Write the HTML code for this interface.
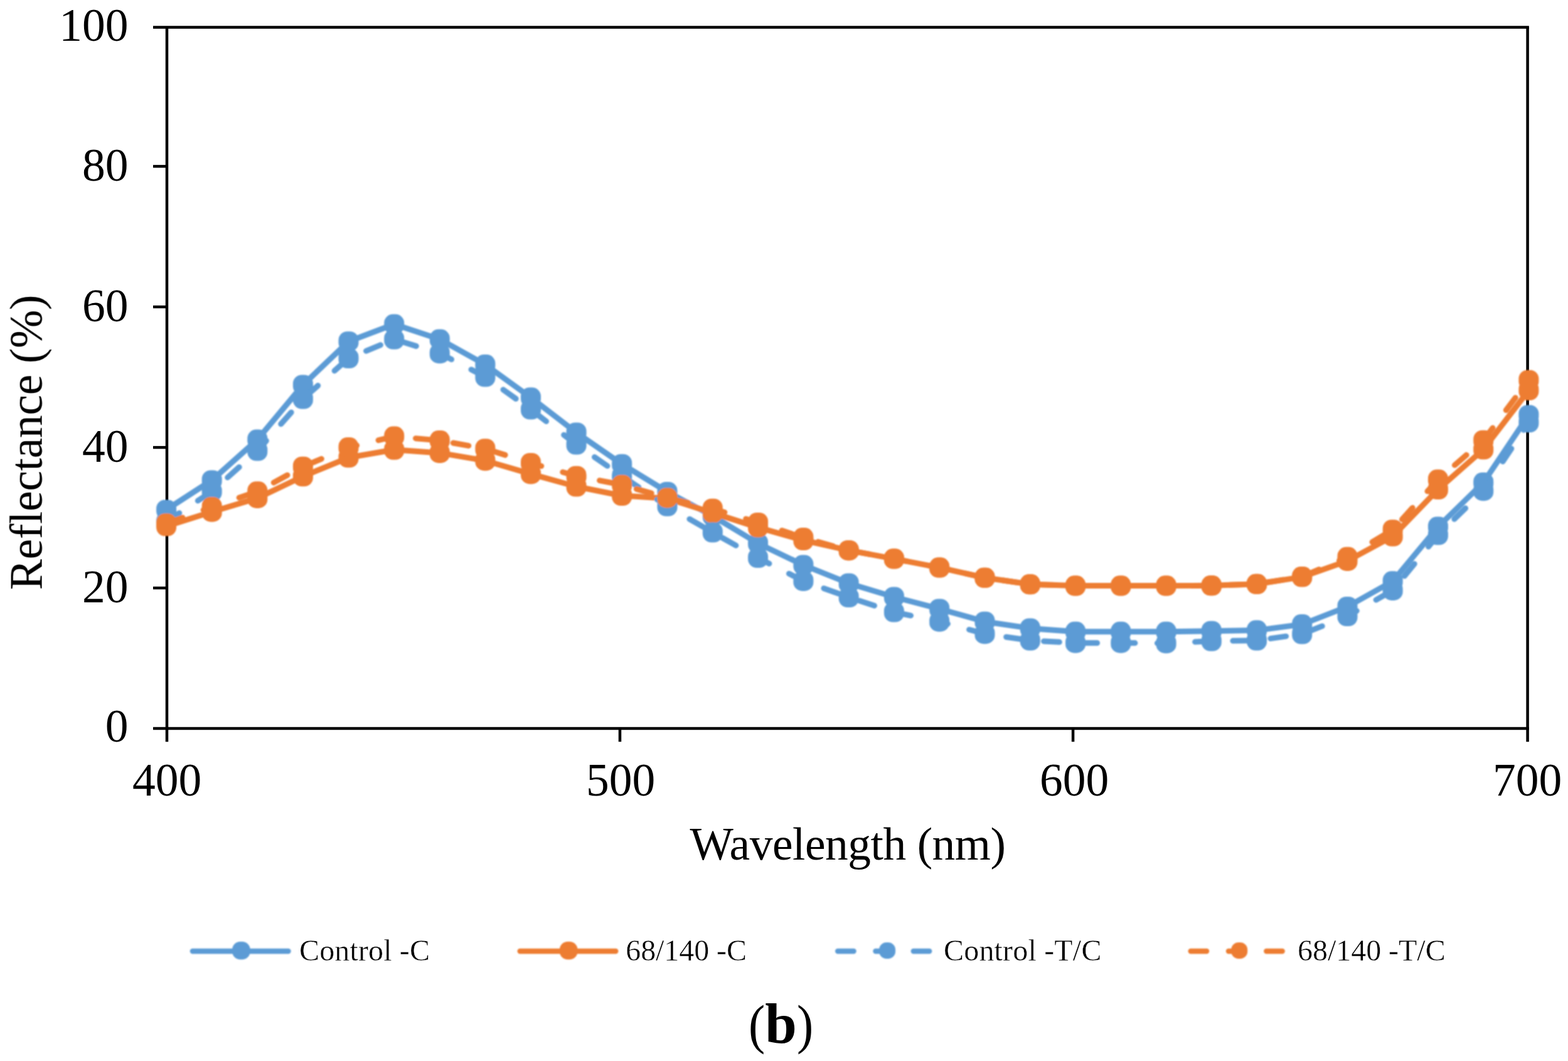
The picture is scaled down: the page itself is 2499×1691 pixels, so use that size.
<!DOCTYPE html>
<html lang="en">
<head>
<meta charset="utf-8">
<title>Reflectance vs Wavelength (b)</title>
<style>
html,body{margin:0;padding:0;background:#fff;}
body{width:2499px;height:1691px;}
svg{display:block;position:absolute;left:0;top:0;}
body{position:relative;}
.caption{position:absolute;left:0;top:0;width:2499px;height:0;font-family:"Liberation Serif","Times New Roman",Times,serif;color:#000;white-space:nowrap;}
.caption span,.caption b{position:absolute;line-height:1;white-space:pre;}
.caption .par{top:1589.0px;font-size:87.6px;transform-origin:0 0;transform:scaleX(0.9);}
.caption b{top:1586.3px;font-size:91px;font-weight:bold;}
text{font-family:"Liberation Serif","Times New Roman",Times,serif;fill:#000;}
.legend text{stroke:#fff;stroke-width:0.4px;}
.ytitle{font-feature-settings:"dlig" 1;font-variant-ligatures:discretionary-ligatures;}
</style>
</head>
<body>
<svg width="2499" height="1691" viewBox="0 0 2499 1691">
<defs>
<filter id="soft" x="-5%" y="-5%" width="110%" height="110%"><feGaussianBlur stdDeviation="0.9"/></filter>
<filter id="softtext" x="-10%" y="-10%" width="120%" height="120%"><feGaussianBlur stdDeviation="0.7"/></filter>
</defs>
<rect x="0" y="0" width="2499" height="1691" fill="#fff"/>
<g class="chart">
<g class="axes" stroke="#000" stroke-width="4.5" fill="none" stroke-linecap="butt">
<line x1="244.0" y1="43.6" x2="2436.85" y2="43.6"/>
<line x1="244.0" y1="1161.1" x2="2436.85" y2="1161.1"/>
<line x1="266.0" y1="43.6" x2="266.0" y2="1182.2"/>
<line x1="2434.6" y1="43.6" x2="2434.6" y2="1182.2"/>
<line x1="244.0" y1="265.1" x2="266.0" y2="265.1"/>
<line x1="244.0" y1="489.1" x2="266.0" y2="489.1"/>
<line x1="244.0" y1="713.1" x2="266.0" y2="713.1"/>
<line x1="244.0" y1="937.1" x2="266.0" y2="937.1"/>
<line x1="988.0" y1="1161.1" x2="988.0" y2="1182.2"/>
<line x1="1710.1" y1="1161.1" x2="1710.1" y2="1182.2"/>
</g>
<g class="labels" filter="url(#softtext)">
<g class="ylabels" font-size="73.5" text-anchor="end">
<text x="204.6" y="64.5">100</text>
<text x="204.6" y="288.2">80</text>
<text x="204.6" y="512.2">60</text>
<text x="204.6" y="736.2">40</text>
<text x="204.6" y="960.2">20</text>
<text x="204.6" y="1181.9">0</text>
</g>
<g class="xlabels" font-size="73.5" text-anchor="middle">
<text x="266.1" y="1268.0">400</text>
<text x="989.2" y="1268.0">500</text>
<text x="1712.0" y="1268.0">600</text>
<text x="2434.2" y="1268.0">700</text>
</g>
<text class="xtitle" x="1099.6" y="1369.5" font-size="73.5" textLength="503.4" lengthAdjust="spacing">Wavelength (nm)</text>
<text class="ytitle" transform="translate(66.6 940.3) rotate(-90)" font-size="73.5" textLength="470.6" lengthAdjust="spacing">Reflectance (%)</text>
</g>
<g class="plot" filter="url(#soft)">
<g class="series">
<polyline points="265.1,812.4 337.7,765.4 410.3,700.6 482.9,613.5 555.5,544.2 628.2,516.8 700.8,540.8 773.4,581.1 846.0,633.6 918.6,689.5 991.2,739.7 1063.5,783.9 1135.8,822.4 1208.1,866.0 1280.4,900.6 1352.7,929.7 1424.9,951.5 1497.2,970.4 1569.5,990.7 1641.8,1001.4 1714.1,1006.8 1786.3,1006.8 1858.6,1006.8 1930.8,1005.7 2003.0,1004.6 2075.2,995.1 2147.5,966.9 2219.7,926.3 2291.9,839.6 2364.2,769.1 2436.4,661.5" fill="none" stroke="#5B9BD5" stroke-width="9.0" stroke-linecap="round" stroke-linejoin="round"/>
<g fill="#5B9BD5"><rect x="249.1" y="796.4" width="32.0" height="32.0" rx="14.0" ry="14.0"/><rect x="321.7" y="749.4" width="32.0" height="32.0" rx="14.0" ry="14.0"/><rect x="394.3" y="684.6" width="32.0" height="32.0" rx="14.0" ry="14.0"/><rect x="466.9" y="597.5" width="32.0" height="32.0" rx="14.0" ry="14.0"/><rect x="539.5" y="528.2" width="32.0" height="32.0" rx="14.0" ry="14.0"/><rect x="612.2" y="500.8" width="32.0" height="32.0" rx="14.0" ry="14.0"/><rect x="684.8" y="524.8" width="32.0" height="32.0" rx="14.0" ry="14.0"/><rect x="757.4" y="565.1" width="32.0" height="32.0" rx="14.0" ry="14.0"/><rect x="830.0" y="617.6" width="32.0" height="32.0" rx="14.0" ry="14.0"/><rect x="902.6" y="673.5" width="32.0" height="32.0" rx="14.0" ry="14.0"/><rect x="975.2" y="723.7" width="32.0" height="32.0" rx="14.0" ry="14.0"/><rect x="1047.5" y="767.9" width="32.0" height="32.0" rx="14.0" ry="14.0"/><rect x="1119.8" y="806.4" width="32.0" height="32.0" rx="14.0" ry="14.0"/><rect x="1192.1" y="850.0" width="32.0" height="32.0" rx="14.0" ry="14.0"/><rect x="1264.4" y="884.6" width="32.0" height="32.0" rx="14.0" ry="14.0"/><rect x="1336.7" y="913.7" width="32.0" height="32.0" rx="14.0" ry="14.0"/><rect x="1408.9" y="935.5" width="32.0" height="32.0" rx="14.0" ry="14.0"/><rect x="1481.2" y="954.4" width="32.0" height="32.0" rx="14.0" ry="14.0"/><rect x="1553.5" y="974.7" width="32.0" height="32.0" rx="14.0" ry="14.0"/><rect x="1625.8" y="985.4" width="32.0" height="32.0" rx="14.0" ry="14.0"/><rect x="1698.1" y="990.8" width="32.0" height="32.0" rx="14.0" ry="14.0"/><rect x="1770.3" y="990.8" width="32.0" height="32.0" rx="14.0" ry="14.0"/><rect x="1842.6" y="990.8" width="32.0" height="32.0" rx="14.0" ry="14.0"/><rect x="1914.8" y="989.7" width="32.0" height="32.0" rx="14.0" ry="14.0"/><rect x="1987.0" y="988.6" width="32.0" height="32.0" rx="14.0" ry="14.0"/><rect x="2059.2" y="979.1" width="32.0" height="32.0" rx="14.0" ry="14.0"/><rect x="2131.5" y="950.9" width="32.0" height="32.0" rx="14.0" ry="14.0"/><rect x="2203.7" y="910.3" width="32.0" height="32.0" rx="14.0" ry="14.0"/><rect x="2275.9" y="823.6" width="32.0" height="32.0" rx="14.0" ry="14.0"/><rect x="2348.2" y="753.1" width="32.0" height="32.0" rx="14.0" ry="14.0"/><rect x="2420.4" y="645.5" width="32.0" height="32.0" rx="14.0" ry="14.0"/></g>
</g>
<g class="series">
<polyline points="265.1,838.6 337.7,815.7 410.3,793.9 482.9,759.3 555.5,729.3 628.2,716.8 700.8,721.9 773.4,734.2 846.0,755.4 918.6,775.5 991.2,790.0 1063.5,794.5 1135.8,817.4 1208.1,840.6 1280.4,861.0 1352.7,877.2 1424.9,890.6 1497.2,904.6 1569.5,920.8 1641.8,931.3 1714.1,933.6 1786.3,933.6 1858.6,933.6 1930.8,933.3 2003.0,930.8 2075.2,919.6 2147.5,893.9 2219.7,854.8 2291.9,780.0 2364.2,716.3 2436.4,622.0" fill="none" stroke="#ED7D31" stroke-width="9.0" stroke-linecap="round" stroke-linejoin="round"/>
<g fill="#ED7D31"><rect x="249.1" y="822.6" width="32.0" height="32.0" rx="14.0" ry="14.0"/><rect x="321.7" y="799.7" width="32.0" height="32.0" rx="14.0" ry="14.0"/><rect x="394.3" y="777.9" width="32.0" height="32.0" rx="14.0" ry="14.0"/><rect x="466.9" y="743.3" width="32.0" height="32.0" rx="14.0" ry="14.0"/><rect x="539.5" y="713.3" width="32.0" height="32.0" rx="14.0" ry="14.0"/><rect x="612.2" y="700.8" width="32.0" height="32.0" rx="14.0" ry="14.0"/><rect x="684.8" y="705.9" width="32.0" height="32.0" rx="14.0" ry="14.0"/><rect x="757.4" y="718.2" width="32.0" height="32.0" rx="14.0" ry="14.0"/><rect x="830.0" y="739.4" width="32.0" height="32.0" rx="14.0" ry="14.0"/><rect x="902.6" y="759.5" width="32.0" height="32.0" rx="14.0" ry="14.0"/><rect x="975.2" y="774.0" width="32.0" height="32.0" rx="14.0" ry="14.0"/><rect x="1047.5" y="778.5" width="32.0" height="32.0" rx="14.0" ry="14.0"/><rect x="1119.8" y="801.4" width="32.0" height="32.0" rx="14.0" ry="14.0"/><rect x="1192.1" y="824.6" width="32.0" height="32.0" rx="14.0" ry="14.0"/><rect x="1264.4" y="845.0" width="32.0" height="32.0" rx="14.0" ry="14.0"/><rect x="1336.7" y="861.2" width="32.0" height="32.0" rx="14.0" ry="14.0"/><rect x="1408.9" y="874.6" width="32.0" height="32.0" rx="14.0" ry="14.0"/><rect x="1481.2" y="888.6" width="32.0" height="32.0" rx="14.0" ry="14.0"/><rect x="1553.5" y="904.8" width="32.0" height="32.0" rx="14.0" ry="14.0"/><rect x="1625.8" y="915.3" width="32.0" height="32.0" rx="14.0" ry="14.0"/><rect x="1698.1" y="917.6" width="32.0" height="32.0" rx="14.0" ry="14.0"/><rect x="1770.3" y="917.6" width="32.0" height="32.0" rx="14.0" ry="14.0"/><rect x="1842.6" y="917.6" width="32.0" height="32.0" rx="14.0" ry="14.0"/><rect x="1914.8" y="917.3" width="32.0" height="32.0" rx="14.0" ry="14.0"/><rect x="1987.0" y="914.8" width="32.0" height="32.0" rx="14.0" ry="14.0"/><rect x="2059.2" y="903.6" width="32.0" height="32.0" rx="14.0" ry="14.0"/><rect x="2131.5" y="877.9" width="32.0" height="32.0" rx="14.0" ry="14.0"/><rect x="2203.7" y="838.8" width="32.0" height="32.0" rx="14.0" ry="14.0"/><rect x="2275.9" y="764.0" width="32.0" height="32.0" rx="14.0" ry="14.0"/><rect x="2348.2" y="700.3" width="32.0" height="32.0" rx="14.0" ry="14.0"/><rect x="2420.4" y="606.0" width="32.0" height="32.0" rx="14.0" ry="14.0"/></g>
</g>
<g class="series">
<polyline points="265.1,831.4 337.7,783.3 410.3,718.5 482.9,635.8 555.5,571.0 628.2,540.8 700.8,563.2 773.4,600.6 846.0,652.6 918.6,708.5 991.2,758.7 1063.5,806.8 1135.8,848.5 1208.1,889.1 1280.4,925.9 1352.7,952.0 1424.9,975.5 1497.2,990.7 1569.5,1010.2 1641.8,1020.8 1714.1,1024.7 1786.3,1024.7 1858.6,1025.2 1930.8,1021.8 2003.0,1020.8 2075.2,1010.5 2147.5,982.0 2219.7,940.9 2291.9,852.6 2364.2,782.2 2436.4,673.3" fill="none" stroke="#5B9BD5" stroke-width="9.0" stroke-linecap="round" stroke-linejoin="round" stroke-dasharray="24.80 35.50" stroke-dashoffset="0.00"/>
<g fill="#5B9BD5"><rect x="249.1" y="815.4" width="32.0" height="32.0" rx="14.0" ry="14.0"/><rect x="321.7" y="767.3" width="32.0" height="32.0" rx="14.0" ry="14.0"/><rect x="394.3" y="702.5" width="32.0" height="32.0" rx="14.0" ry="14.0"/><rect x="466.9" y="619.8" width="32.0" height="32.0" rx="14.0" ry="14.0"/><rect x="539.5" y="555.0" width="32.0" height="32.0" rx="14.0" ry="14.0"/><rect x="612.2" y="524.8" width="32.0" height="32.0" rx="14.0" ry="14.0"/><rect x="684.8" y="547.2" width="32.0" height="32.0" rx="14.0" ry="14.0"/><rect x="757.4" y="584.6" width="32.0" height="32.0" rx="14.0" ry="14.0"/><rect x="830.0" y="636.6" width="32.0" height="32.0" rx="14.0" ry="14.0"/><rect x="902.6" y="692.5" width="32.0" height="32.0" rx="14.0" ry="14.0"/><rect x="975.2" y="742.7" width="32.0" height="32.0" rx="14.0" ry="14.0"/><rect x="1047.5" y="790.8" width="32.0" height="32.0" rx="14.0" ry="14.0"/><rect x="1119.8" y="832.5" width="32.0" height="32.0" rx="14.0" ry="14.0"/><rect x="1192.1" y="873.1" width="32.0" height="32.0" rx="14.0" ry="14.0"/><rect x="1264.4" y="909.9" width="32.0" height="32.0" rx="14.0" ry="14.0"/><rect x="1336.7" y="936.0" width="32.0" height="32.0" rx="14.0" ry="14.0"/><rect x="1408.9" y="959.5" width="32.0" height="32.0" rx="14.0" ry="14.0"/><rect x="1481.2" y="974.7" width="32.0" height="32.0" rx="14.0" ry="14.0"/><rect x="1553.5" y="994.2" width="32.0" height="32.0" rx="14.0" ry="14.0"/><rect x="1625.8" y="1004.8" width="32.0" height="32.0" rx="14.0" ry="14.0"/><rect x="1698.1" y="1008.7" width="32.0" height="32.0" rx="14.0" ry="14.0"/><rect x="1770.3" y="1008.7" width="32.0" height="32.0" rx="14.0" ry="14.0"/><rect x="1842.6" y="1009.2" width="32.0" height="32.0" rx="14.0" ry="14.0"/><rect x="1914.8" y="1005.8" width="32.0" height="32.0" rx="14.0" ry="14.0"/><rect x="1987.0" y="1004.8" width="32.0" height="32.0" rx="14.0" ry="14.0"/><rect x="2059.2" y="994.5" width="32.0" height="32.0" rx="14.0" ry="14.0"/><rect x="2131.5" y="966.0" width="32.0" height="32.0" rx="14.0" ry="14.0"/><rect x="2203.7" y="924.9" width="32.0" height="32.0" rx="14.0" ry="14.0"/><rect x="2275.9" y="836.6" width="32.0" height="32.0" rx="14.0" ry="14.0"/><rect x="2348.2" y="766.2" width="32.0" height="32.0" rx="14.0" ry="14.0"/><rect x="2420.4" y="657.3" width="32.0" height="32.0" rx="14.0" ry="14.0"/></g>
</g>
<g class="series">
<polyline points="265.1,834.2 337.7,807.9 410.3,783.3 482.9,743.7 555.5,713.1 628.2,695.6 700.8,702.1 773.4,715.2 846.0,738.0 918.6,758.7 991.2,772.7 1063.5,793.4 1135.8,810.7 1208.1,832.9 1280.4,857.1 1352.7,877.2 1424.9,890.6 1497.2,904.6 1569.5,920.8 1641.8,931.3 1714.1,933.6 1786.3,933.6 1858.6,933.6 1930.8,933.3 2003.0,930.8 2075.2,919.1 2147.5,887.8 2219.7,844.2 2291.9,764.3 2364.2,701.7 2436.4,605.7" fill="none" stroke="#ED7D31" stroke-width="9.0" stroke-linecap="round" stroke-linejoin="round" stroke-dasharray="24.80 35.50" stroke-dashoffset="-2.50"/>
<g fill="#ED7D31"><rect x="249.1" y="818.2" width="32.0" height="32.0" rx="14.0" ry="14.0"/><rect x="321.7" y="791.9" width="32.0" height="32.0" rx="14.0" ry="14.0"/><rect x="394.3" y="767.3" width="32.0" height="32.0" rx="14.0" ry="14.0"/><rect x="466.9" y="727.7" width="32.0" height="32.0" rx="14.0" ry="14.0"/><rect x="539.5" y="697.1" width="32.0" height="32.0" rx="14.0" ry="14.0"/><rect x="612.2" y="679.6" width="32.0" height="32.0" rx="14.0" ry="14.0"/><rect x="684.8" y="686.1" width="32.0" height="32.0" rx="14.0" ry="14.0"/><rect x="757.4" y="699.2" width="32.0" height="32.0" rx="14.0" ry="14.0"/><rect x="830.0" y="722.0" width="32.0" height="32.0" rx="14.0" ry="14.0"/><rect x="902.6" y="742.7" width="32.0" height="32.0" rx="14.0" ry="14.0"/><rect x="975.2" y="756.7" width="32.0" height="32.0" rx="14.0" ry="14.0"/><rect x="1047.5" y="777.4" width="32.0" height="32.0" rx="14.0" ry="14.0"/><rect x="1119.8" y="794.7" width="32.0" height="32.0" rx="14.0" ry="14.0"/><rect x="1192.1" y="816.9" width="32.0" height="32.0" rx="14.0" ry="14.0"/><rect x="1264.4" y="841.1" width="32.0" height="32.0" rx="14.0" ry="14.0"/><rect x="1336.7" y="861.2" width="32.0" height="32.0" rx="14.0" ry="14.0"/><rect x="1408.9" y="874.6" width="32.0" height="32.0" rx="14.0" ry="14.0"/><rect x="1481.2" y="888.6" width="32.0" height="32.0" rx="14.0" ry="14.0"/><rect x="1553.5" y="904.8" width="32.0" height="32.0" rx="14.0" ry="14.0"/><rect x="1625.8" y="915.3" width="32.0" height="32.0" rx="14.0" ry="14.0"/><rect x="1698.1" y="917.6" width="32.0" height="32.0" rx="14.0" ry="14.0"/><rect x="1770.3" y="917.6" width="32.0" height="32.0" rx="14.0" ry="14.0"/><rect x="1842.6" y="917.6" width="32.0" height="32.0" rx="14.0" ry="14.0"/><rect x="1914.8" y="917.3" width="32.0" height="32.0" rx="14.0" ry="14.0"/><rect x="1987.0" y="914.8" width="32.0" height="32.0" rx="14.0" ry="14.0"/><rect x="2059.2" y="903.1" width="32.0" height="32.0" rx="14.0" ry="14.0"/><rect x="2131.5" y="871.8" width="32.0" height="32.0" rx="14.0" ry="14.0"/><rect x="2203.7" y="828.2" width="32.0" height="32.0" rx="14.0" ry="14.0"/><rect x="2275.9" y="748.3" width="32.0" height="32.0" rx="14.0" ry="14.0"/><rect x="2348.2" y="685.7" width="32.0" height="32.0" rx="14.0" ry="14.0"/><rect x="2420.4" y="589.7" width="32.0" height="32.0" rx="14.0" ry="14.0"/></g>
</g>
</g>
<g class="legend">
<g class="legend-item">
<g filter="url(#soft)"><line x1="306.9" y1="1516.0" x2="459.5" y2="1516.0" stroke="#5B9BD5" stroke-width="8.4" stroke-linecap="round"/>
<rect x="370.1" y="1500.7" width="28.6" height="28.6" rx="12.9" ry="12.9" fill="#5B9BD5"/></g>
<text x="477.0" y="1530.5" font-size="48.0" textLength="208.0" lengthAdjust="spacing" filter="url(#softtext)">Control -C</text>
</g>
<g class="legend-item">
<g filter="url(#soft)"><line x1="828.7" y1="1516.0" x2="981.3" y2="1516.0" stroke="#ED7D31" stroke-width="8.4" stroke-linecap="round"/>
<rect x="891.9" y="1500.7" width="28.6" height="28.6" rx="12.9" ry="12.9" fill="#ED7D31"/></g>
<text x="997.2" y="1530.5" font-size="48.0" textLength="192.8" lengthAdjust="spacing" filter="url(#softtext)">68/140 -C</text>
</g>
<g class="legend-item">
<g filter="url(#soft)"><line x1="1335.2" y1="1516.0" x2="1487.8" y2="1516.0" stroke="#5B9BD5" stroke-width="8.4" stroke-linecap="round" stroke-dasharray="25.40 34.90"/>
<rect x="1401.1" y="1502.0" width="26.0" height="26.0" rx="11.7" ry="11.7" fill="#5B9BD5"/></g>
<text x="1504.0" y="1530.5" font-size="48.0" textLength="251.4" lengthAdjust="spacing" filter="url(#softtext)">Control -T/C</text>
</g>
<g class="legend-item">
<g filter="url(#soft)"><line x1="1897.7" y1="1516.0" x2="2050.3" y2="1516.0" stroke="#ED7D31" stroke-width="8.4" stroke-linecap="round" stroke-dasharray="25.40 34.90"/>
<rect x="1962.2" y="1502.0" width="26.0" height="26.0" rx="11.7" ry="11.7" fill="#ED7D31"/></g>
<text x="2068.0" y="1530.5" font-size="48.0" textLength="235.7" lengthAdjust="spacing" filter="url(#softtext)">68/140 -T/C</text>
</g>
</g>
</g>
</svg>
<div class="caption"><span class="par" style="left:1192.7px">(</span><b style="left:1219.2px">b</b><span class="par" style="left:1270.3px">)</span></div>
</body>
</html>
